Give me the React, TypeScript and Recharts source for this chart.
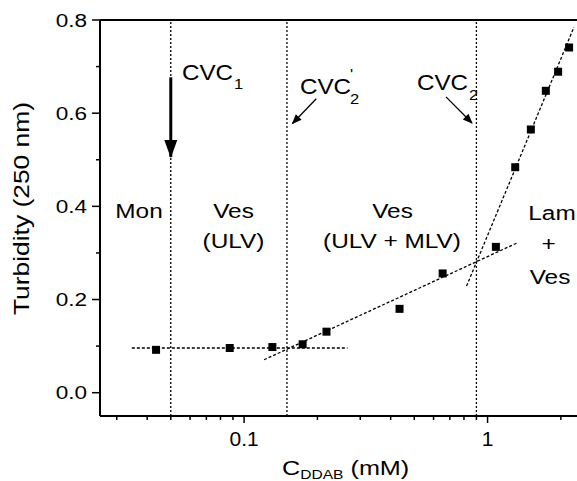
import React from "react";
import { ComposedChart, XAxis, YAxis, Scatter, Line, ReferenceLine } from "recharts";

// measured turbidity vs DDAB concentration (mM)
const concentration = [0.0435, 0.0873, 0.1307, 0.174, 0.218, 0.435, 0.654, 1.082, 1.299, 1.506, 1.735, 1.949, 2.162];
const turbidity = [0.092, 0.096, 0.098, 0.104, 0.131, 0.18, 0.256, 0.313, 0.484, 0.565, 0.648, 0.689, 0.741];

// linear fits (in log x) drawn as dotted lines
const flatFitX = [0.0346, 0.266];
const flatFitY = [0.096, 0.096];
const vesFitX = [0.1208, 1.316];
const vesFitY = [0.0707, 0.321];
const lamFitX = [0.82, 2.266];
const lamFitY = [0.229, 0.785];

// critical concentrations
const cvcLines = [0.05, 0.15, 0.9];

// arrows: tail -> tip, in data units
const bigArrowX = [0.05, 0.05];
const bigArrowY = [0.677, 0.506];
const cvc2pArrowX = [0.198, 0.158];
const cvc2pArrowY = [0.631, 0.578];
const cvc2ArrowX = [0.675, 0.863];
const cvc2ArrowY = [0.635, 0.579];

const xTicks = [0.03, 0.04, 0.05, 0.06, 0.07, 0.08, 0.09, 0.1, 0.2, 0.3, 0.4, 0.5, 0.6, 0.7, 0.8, 0.9, 1, 2];
const xMajor = [0.1, 1];
const xLabels = ["0.1", "1"];
const yTicks = [0, 0.1, 0.2, 0.3, 0.4, 0.5, 0.6, 0.7, 0.8];
const yMajor = [0, 0.2, 0.4, 0.6, 0.8];
const yLabels = ["0.0", "0.2", "0.4", "0.6", "0.8"];

const points = concentration.map((x, i) => ({ x, y: turbidity[i] }));
const toPts = (xs: number[], ys: number[]) => xs.map((x, i) => ({ x, y: ys[i] }));

const FONT = "'Liberation Sans', Arial, Helvetica, sans-serif";

const near = (a: number, b: number) => Math.abs(a - b) < 1e-6;

const XTick = (props: any) => {
  const { x, y, payload } = props;
  const idx = xMajor.findIndex((m) => near(m, payload.value));
  const major = idx >= 0;
  return (
    <g>
      <line x1={x} y1={y} x2={x} y2={y + (major ? 7 : 4)} stroke="#000" strokeWidth={1.5} />
      {major && (
        <text x={x} y={y + 30} textAnchor="middle" fontSize={21} fontFamily={FONT} fill="#000">
          {xLabels[idx]}
        </text>
      )}
    </g>
  );
};

const YTick = (props: any) => {
  const { x, y, payload } = props;
  const idx = yMajor.findIndex((m) => near(m, payload.value));
  const major = idx >= 0;
  return (
    <g>
      <line x1={x} y1={y} x2={x - (major ? 8 : 4)} y2={y} stroke="#000" strokeWidth={1.5} />
      {major && (
        <g transform={`translate(${x - 13},${y + 6.6}) scale(1.22,1)`}>
          <text x={0} y={0} textAnchor="end" fontSize={18.5} fontFamily={FONT} fill="#000">
            {yLabels[idx]}
          </text>
        </g>
      )}
    </g>
  );
};

// arrow head drawn at the tip (2nd point) of a two-point Line
const arrowHead = (head: number, half: number) => (p: any) => {
  const { cx, cy, index, points: pts } = p;
  if (index !== 1 || !pts || pts.length < 2) return <g key={`h-${index}`} />;
  const dx = cx - pts[0].x;
  const dy = cy - pts[0].y;
  const len = Math.hypot(dx, dy) || 1;
  const ux = dx / len;
  const uy = dy / len;
  const bx = cx - ux * head;
  const by = cy - uy * head;
  return (
    <polygon
      key={`h-${index}`}
      points={`${cx + ux},${cy + uy} ${bx - uy * half},${by + ux * half} ${bx + uy * half},${by - ux * half}`}
      fill="#000"
      stroke="none"
    />
  );
};

const T = ({ x, y, size = 19.5, sx = 1.25, anchor = "middle", children }: any) => (
  <g transform={`translate(${x},${y}) scale(${sx},1)`}>
    <text x={0} y={0} textAnchor={anchor} fontSize={size} fontFamily={FONT} fill="#000">
      {children}
    </text>
  </g>
);

export default function App() {
  return (
    <div style={{ position: "absolute", left: 0, top: 0, width: 577, height: 481, background: "#fff", overflow: "hidden" }}>
      <ComposedChart width={577} height={481} margin={{ top: 20, right: 0, bottom: 0, left: 0 }}>
        <XAxis
          dataKey="x"
          type="number"
          scale="log"
          domain={[0.0256, 2.33]}
          allowDataOverflow
          ticks={xTicks}
          interval={0}
          height={65}
          tickSize={0}
          tickMargin={0}
          tickLine={false}
          axisLine={{ stroke: "#000", strokeWidth: 2 }}
          tick={<XTick />}
        />
        <YAxis
          type="number"
          domain={[-0.05, 0.8]}
          allowDataOverflow
          ticks={yTicks}
          interval={0}
          width={100}
          tickSize={0}
          tickMargin={0}
          tickLine={false}
          axisLine={{ stroke: "#000", strokeWidth: 2 }}
          tick={<YTick />}
        />
        <ReferenceLine y={0.8} stroke="#000" strokeWidth={2} />
        {cvcLines.map((c) => (
          <ReferenceLine key={c} x={c} stroke="#000" strokeWidth={1.3} strokeDasharray="2 2" />
        ))}
        <Line data={toPts(flatFitX, flatFitY)} dataKey="y" stroke="#000" strokeWidth={1.3} strokeDasharray="3 2" dot={false} isAnimationActive={false} />
        <Line data={toPts(vesFitX, vesFitY)} dataKey="y" stroke="#000" strokeWidth={1.3} strokeDasharray="3 2" dot={false} isAnimationActive={false} />
        <Line data={toPts(lamFitX, lamFitY)} dataKey="y" stroke="#000" strokeWidth={1.3} strokeDasharray="3 2" dot={false} isAnimationActive={false} />
        <Scatter data={points} dataKey="y" fill="#000" shape="square" isAnimationActive={false} />
        <Line data={toPts(bigArrowX, bigArrowY)} dataKey="y" stroke="#000" strokeWidth={3} dot={arrowHead(17, 6.5)} activeDot={false} isAnimationActive={false} />
        <Line data={toPts(cvc2pArrowX, cvc2pArrowY)} dataKey="y" stroke="#000" strokeWidth={1.3} dot={arrowHead(9, 4)} activeDot={false} isAnimationActive={false} />
        <Line data={toPts(cvc2ArrowX, cvc2ArrowY)} dataKey="y" stroke="#000" strokeWidth={1.3} dot={arrowHead(9, 4)} activeDot={false} isAnimationActive={false} />
      </ComposedChart>
      <svg width={577} height={481} style={{ position: "absolute", left: 0, top: 0, pointerEvents: "none" }}>
        {/* hide the stray edge line at the right of the plot (reference has no right frame) */}
        <rect x={574.5} y={22} width={3} height={392} fill="#fff" />

        {/* axis titles */}
        <g transform="translate(29,208.5) rotate(-90) scale(1.2,1)">
          <text x={0} y={0} textAnchor="middle" fontSize={22} fontFamily={FONT} fill="#000">
            Turbidity (250 nm)
          </text>
        </g>
        <g transform="translate(282,475) scale(1.2,1)">
          <text x={0} y={0} fontSize={21} fontFamily={FONT} fill="#000">
            C<tspan fontSize={13} dy={4}>DDAB</tspan>
            <tspan dy={-4}> (mM)</tspan>
          </text>
        </g>

        {/* CVC labels */}
        <T x={182} y={80} size={22} sx={1.1} anchor="start">CVC</T>
        <T x={234} y={89} size={15} sx={1.1} anchor="start">1</T>
        <T x={300} y={93.5} size={22} sx={1.1} anchor="start">CVC</T>
        <T x={350} y={79} size={15} sx={1.1} anchor="start">'</T>
        <T x={350} y={104} size={15} sx={1.1} anchor="start">2</T>
        <T x={417} y={90} size={22} sx={1.1} anchor="start">CVC</T>
        <T x={469} y={100} size={15} sx={1.1} anchor="start">2</T>

        {/* region labels */}
        <T x={139} y={217.5}>Mon</T>
        <T x={233.5} y={217.5}>Ves</T>
        <T x={233.5} y={247.5}>(ULV)</T>
        <T x={392.5} y={217.5}>Ves</T>
        <T x={392} y={247.5}>(ULV + MLV)</T>
        <T x={552} y={219.5}>Lam</T>
        <T x={548.5} y={250.5}>+</T>
        <T x={550} y={283.5}>Ves</T>
      </svg>
    </div>
  );
}
